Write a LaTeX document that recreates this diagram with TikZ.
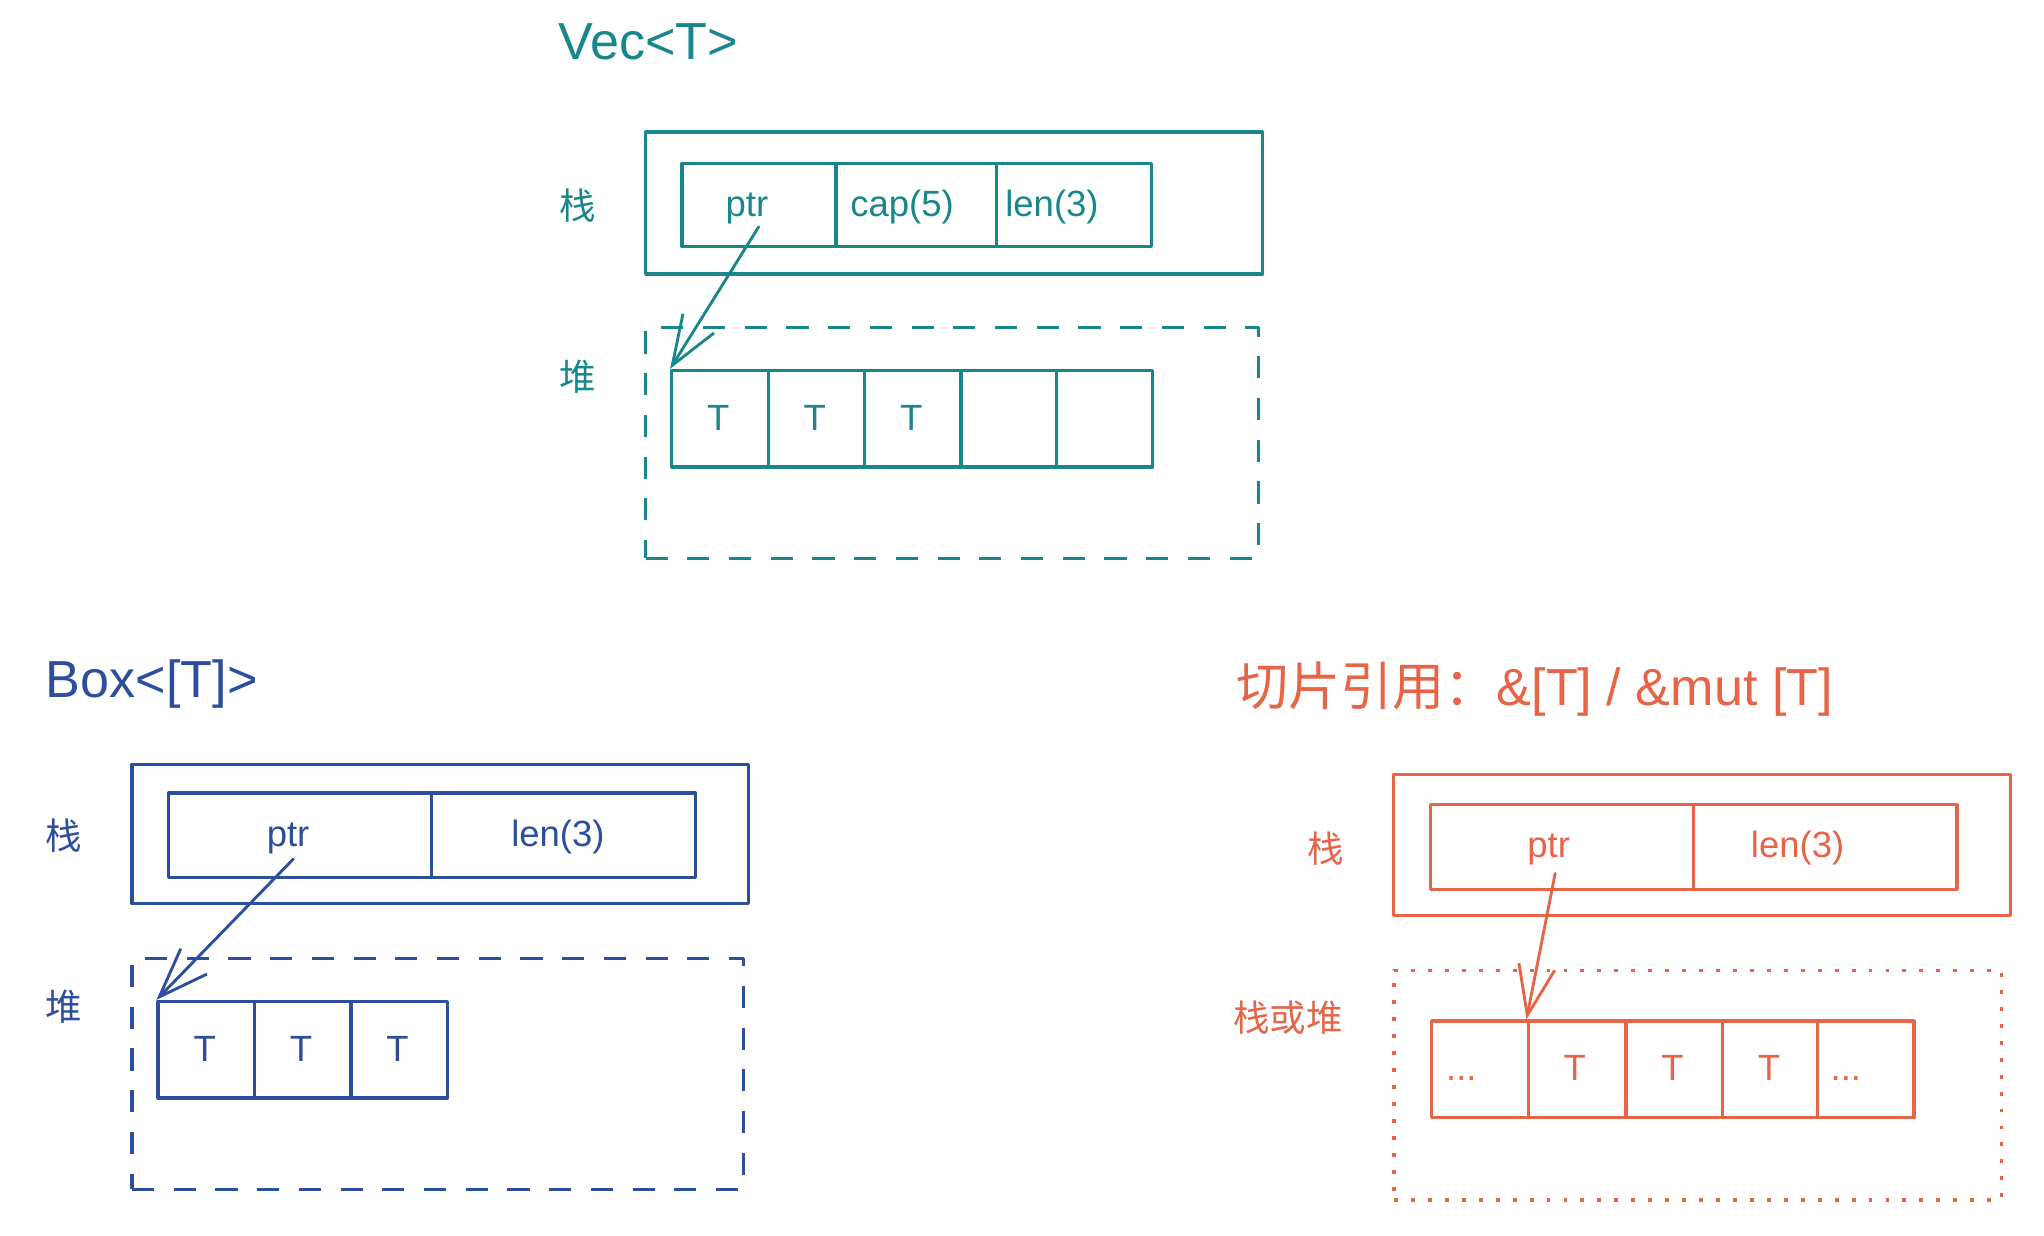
\documentclass[tikz,border=0pt]{standalone}
\usepackage{fontspec}
\setmainfont{Liberation Sans}
\newfontfamily\cjk{Noto Sans CJK SC}
\usetikzlibrary{arrows.meta}
\definecolor{tealc}{RGB}{24,134,138}
\definecolor{bluec}{RGB}{44,78,156}
\definecolor{orangec}{RGB}{230,100,72}
\begin{document}
\begin{tikzpicture}[x=1pt,y=-1pt,
  frame/.style={draw, rectangle, inner sep=0pt, line width=2.5pt, line join=round, anchor=north west},
  dashbox/.style={frame, dash pattern=on 17pt off 15pt},
  dotbox/.style={frame, line width=2.8pt, dash pattern=on 3pt off 10pt},
  txt/.style={inner sep=0pt, anchor=base, font=\fontsize{28}{30}\selectfont},
  lab/.style={inner sep=0pt, anchor=center, font=\fontsize{28}{30}\selectfont\cjk},
  title/.style={inner sep=0pt, anchor=base west, font=\fontsize{40}{42}\selectfont},
  arr/.style={line width=2.2pt, line cap=round, -{Straight Barb[length=38pt,width=28pt]}}
]
\useasboundingbox (0,0) rectangle (1568,948);

% ---------------- Vec<T> ----------------
\begin{scope}[tealc]
\node[title, text=tealc] (vtitle) at (428,46) {Vec<T>};
\node[frame, minimum width=473pt, minimum height=109pt] (vstack) at (494,100) {};
\node[frame, minimum width=118pt, minimum height=64pt] (vs1) at (522,124) {};
\node[frame, minimum width=123pt, minimum height=64pt] (vs2) at (640,124) {};
\node[frame, minimum width=119pt, minimum height=64pt] (vs3) at (763,124) {};
\node[txt, text=tealc] (vptr) at (573,166) {ptr};
\node[txt, text=tealc] (vcap) at (692,166) {cap(5)};
\node[txt, text=tealc] (vlen) at (807,166) {len(3)};
\node[lab, text=tealc] (vzhan) at (443,158) {栈};
\node[lab, text=tealc] (vdui) at (443,289) {堆};
\node[dashbox, minimum width=470pt, minimum height=177pt] (vheap) at (494,250) {};
\node[frame, minimum width=74pt, minimum height=74pt] (vh1) at (514,283) {};
\node[frame, minimum width=74pt, minimum height=74pt] (vh2) at (588,283) {};
\node[frame, minimum width=74pt, minimum height=74pt] (vh3) at (662,283) {};
\node[frame, minimum width=73pt, minimum height=74pt] (vh4) at (736,283) {};
\node[frame, minimum width=74pt, minimum height=74pt] (vh5) at (809,283) {};
\node[txt, text=tealc] (vt1) at (551,330) {T};
\node[txt, text=tealc] (vt2) at (625,330) {T};
\node[txt, text=tealc] (vt3) at (699,330) {T};
\coordinate (vtail) at (582,174);
\draw[arr, tealc] (vtail) -- (vh1.north west);
\end{scope}

% ---------------- Box<[T]> ----------------
\begin{scope}[bluec]
\node[title, text=bluec] (btitle) at (35,535) {Box<[T]>};
\node[frame, minimum width=473pt, minimum height=107pt] (bstack) at (100,585) {};
\node[frame, minimum width=202pt, minimum height=65pt] (bs1) at (128,607) {};
\node[frame, minimum width=202pt, minimum height=65pt] (bs2) at (330,607) {};
\node[txt, text=bluec] (bptr) at (221,649) {ptr};
\node[txt, text=bluec] (blen) at (428,649) {len(3)};
\node[lab, text=bluec] (bzhan) at (49,641) {栈};
\node[lab, text=bluec] (bdui) at (49,772) {堆};
\node[dashbox, minimum width=469pt, minimum height=177pt] (bheap) at (100,734) {};
\node[frame, minimum width=74pt, minimum height=74pt] (bh1) at (120,767) {};
\node[frame, minimum width=74pt, minimum height=74pt] (bh2) at (194,767) {};
\node[frame, minimum width=74pt, minimum height=74pt] (bh3) at (268,767) {};
\node[txt, text=bluec] (bt1) at (157,814) {T};
\node[txt, text=bluec] (bt2) at (231,814) {T};
\node[txt, text=bluec] (bt3) at (305,814) {T};
\coordinate (btail) at (225,659);
\draw[arr, bluec] (btail) -- (bh1.north west);
\end{scope}

% ---------------- slice ----------------
\begin{scope}[orangec]
\node[title, text=orangec] (otitle) at (948,541) {{\cjk 切片引用：}\&[T] / \&mut [T]};
\node[frame, minimum width=473pt, minimum height=108pt] (ostack) at (1068,593) {};
\node[frame, minimum width=202pt, minimum height=65pt] (os1) at (1096,616) {};
\node[frame, minimum width=202pt, minimum height=65pt] (os2) at (1298,616) {};
\node[txt, text=orangec] (optr) at (1188,658) {ptr};
\node[txt, text=orangec] (olen) at (1379,658) {len(3)};
\node[lab, text=orangec] (ozhan) at (1017,651) {栈};
\node[lab, text=orangec] (ohuo) at (988,781) {栈或堆};
\node[dotbox, minimum width=466pt, minimum height=176pt] (oheap) at (1068,743) {};
\node[frame, minimum width=74pt, minimum height=74pt] (oh1) at (1097,782) {};
\node[frame, minimum width=75pt, minimum height=74pt] (oh2) at (1171,782) {};
\node[frame, minimum width=74pt, minimum height=74pt] (oh3) at (1246,782) {};
\node[frame, minimum width=73pt, minimum height=74pt] (oh4) at (1320,782) {};
\node[frame, minimum width=74pt, minimum height=74pt] (oh5) at (1393,782) {};
\node[txt, text=orangec] (od1) at (1121,829) {...};
\node[txt, text=orangec] (ot1) at (1208,829) {T};
\node[txt, text=orangec] (ot2) at (1283,829) {T};
\node[txt, text=orangec] (ot3) at (1357,829) {T};
\node[txt, text=orangec] (od2) at (1416,829) {...};
\coordinate (otail) at (1193,670);
\draw[arr, orangec] (otail) -- (oh2.north west);
\end{scope}
\end{tikzpicture}
\end{document}
